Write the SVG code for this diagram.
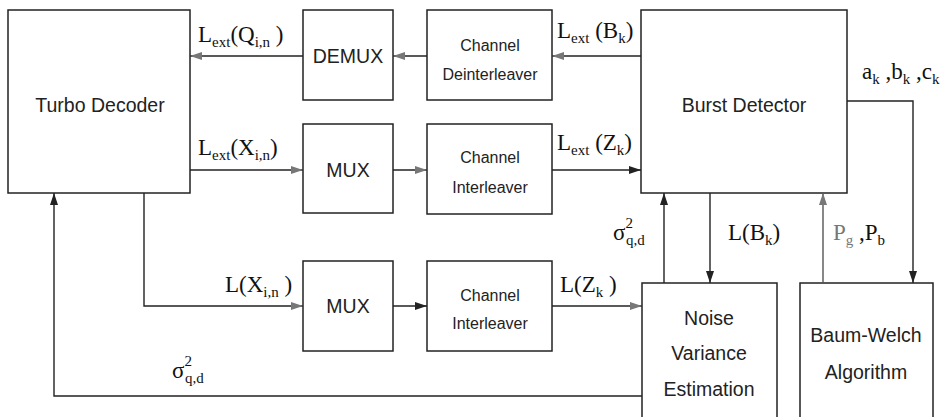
<svg xmlns="http://www.w3.org/2000/svg" width="944" height="417" viewBox="0 0 944 417">
<style>
.box{fill:#fff;stroke:#222;stroke-width:1.5}
.t{font-family:"Liberation Sans",Arial,sans-serif;font-size:19.5px;fill:#222;text-anchor:middle}
.c{font-family:"Liberation Sans",Arial,sans-serif;font-size:16px;fill:#222;text-anchor:middle}
.l{font-family:"Liberation Serif","Times New Roman",serif;font-size:23px;fill:#111}
.s{font-size:15px}
.w{fill:none;stroke:#222;stroke-width:1.4}
.g{fill:none;stroke:#555;stroke-width:1.4}
</style>
<defs>
<marker id="ad" viewBox="0 0 12 8" refX="12" refY="4" markerWidth="12" markerHeight="8" markerUnits="userSpaceOnUse" orient="auto"><path d="M0,0 L12,4 L0,8 Z" fill="#222"/></marker>
<marker id="ag" viewBox="0 0 12 8" refX="12" refY="4" markerWidth="12" markerHeight="8" markerUnits="userSpaceOnUse" orient="auto"><path d="M0,0 L12,4 L0,8 Z" fill="#777"/></marker>
</defs>
<rect width="944" height="417" fill="#fff"/>
<g id="turbo"><rect class="box" x="8" y="10" width="182" height="183"/><text class="t" x="100" y="112">Turbo Decoder</text></g>
<g id="demux"><rect class="box" x="303" y="10" width="90" height="90"/><text class="t" x="348" y="63">DEMUX</text></g>
<g id="deint"><rect class="box" x="427" y="10" width="125" height="90"/><text class="c" x="490" y="51">Channel</text><text class="c" x="490" y="80">Deinterleaver</text></g>
<g id="mux1"><rect class="box" x="303" y="124" width="90" height="89"/><text class="t" x="348" y="177">MUX</text></g>
<g id="int1"><rect class="box" x="427" y="124" width="125" height="90"/><text class="c" x="490" y="163">Channel</text><text class="c" x="490" y="193">Interleaver</text></g>
<g id="burst"><rect class="box" x="641" y="10" width="206" height="183"/><text class="t" x="744" y="112">Burst Detector</text></g>
<g id="mux2"><rect class="box" x="303" y="261" width="90" height="90"/><text class="t" x="348" y="313">MUX</text></g>
<g id="int2"><rect class="box" x="427" y="261" width="125" height="90"/><text class="c" x="490" y="301">Channel</text><text class="c" x="490" y="329">Interleaver</text></g>
<g id="noise"><rect class="box" x="642" y="283" width="135" height="150"/><text class="t" x="709" y="325">Noise</text><text class="t" x="709" y="360">Variance</text><text class="t" x="709" y="396">Estimation</text></g>
<g id="baum"><rect class="box" x="800" y="283" width="133" height="150"/><text class="t" x="866" y="342">Baum-Welch</text><text class="t" x="866" y="379">Algorithm</text></g>
<g id="connectors">
<line class="w" x1="303" y1="56" x2="190" y2="56" marker-end="url(#ag)"/>
<line class="w" x1="427" y1="56" x2="393" y2="56" marker-end="url(#ag)"/>
<line class="w" x1="641" y1="56" x2="552" y2="56" marker-end="url(#ag)"/>
<line class="w" x1="190" y1="170" x2="303" y2="170" marker-end="url(#ag)"/>
<line class="w" x1="393" y1="170" x2="427" y2="170" marker-end="url(#ag)"/>
<line class="w" x1="552" y1="170" x2="641" y2="170" marker-end="url(#ad)"/>
<polyline class="w" points="144,193 144,306 303,306" marker-end="url(#ag)"/>
<line class="w" x1="393" y1="306" x2="427" y2="306" marker-end="url(#ad)"/>
<line class="w" x1="552" y1="306" x2="642" y2="306" marker-end="url(#ag)"/>
<polyline class="w" points="642,396 54,396 54,193" marker-end="url(#ad)"/>
<line class="w" x1="664" y1="283" x2="664" y2="193" marker-end="url(#ad)"/>
<line class="w" x1="710" y1="193" x2="710" y2="283" marker-end="url(#ad)"/>
<line class="g" x1="823" y1="283" x2="823" y2="193" marker-end="url(#ag)"/>
<polyline class="w" points="847,101 913,101 913,283" marker-end="url(#ad)"/>
</g>
<g id="labels">
<text class="l" x="198" y="42">L<tspan class="s" dy="5">ext</tspan><tspan dy="-5">(Q</tspan><tspan class="s" dy="5">i,n</tspan><tspan dy="-5"> )</tspan></text>
<text class="l" x="557" y="38">L<tspan class="s" dy="5">ext</tspan><tspan dy="-5"> (B</tspan><tspan class="s" dy="5">k</tspan><tspan dy="-5">)</tspan></text>
<text class="l" x="198" y="155">L<tspan class="s" dy="5">ext</tspan><tspan dy="-5">(X</tspan><tspan class="s" dy="5">i,n</tspan><tspan dy="-5">)</tspan></text>
<text class="l" x="557" y="150">L<tspan class="s" dy="5">ext</tspan><tspan dy="-5"> (Z</tspan><tspan class="s" dy="5">k</tspan><tspan dy="-5">)</tspan></text>
<text class="l" x="862" y="79">a<tspan class="s" dy="5">k</tspan><tspan dy="-5"> ,b</tspan><tspan class="s" dy="5">k</tspan><tspan dy="-5"> ,c</tspan><tspan class="s" dy="5">k</tspan></text>
<text class="l" x="225" y="292">L(X<tspan class="s" dy="5">i,n</tspan><tspan dy="-5"> )</tspan></text>
<text class="l" x="560" y="292">L(Z<tspan class="s" dy="5">k</tspan><tspan dy="-5"> )</tspan></text>
<text class="l" x="172" y="378">σ<tspan class="s" dy="-12">2</tspan><tspan class="s" dx="-7" dy="17">q,d</tspan></text>
<text class="l" x="613" y="240">σ<tspan class="s" dy="-12">2</tspan><tspan class="s" dx="-7" dy="17">q,d</tspan></text>
<text class="l" x="728" y="240">L(B<tspan class="s" dy="5">k</tspan><tspan dy="-5">)</tspan></text>
<text class="l" x="833" y="240"><tspan fill="#777">P</tspan><tspan class="s" dy="5" fill="#777">g</tspan><tspan dy="-5"> ,P</tspan><tspan class="s" dy="5">b</tspan></text>
</g>
</svg>
